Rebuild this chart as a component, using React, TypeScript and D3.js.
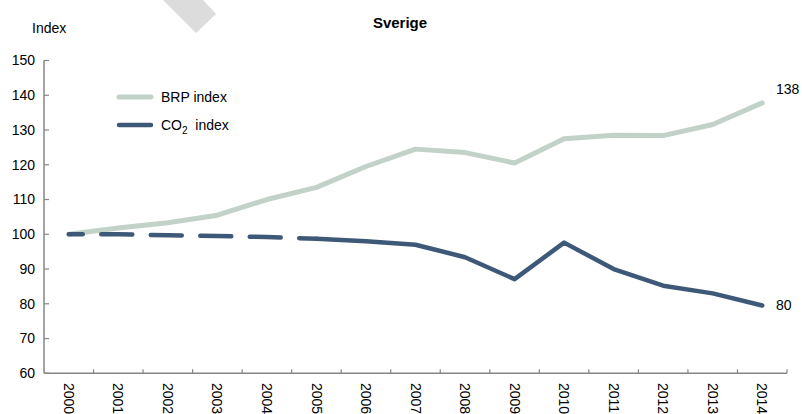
import React from "react";
import * as d3 from "d3";

const years = ["2000","2001","2002","2003","2004","2005","2006","2007","2008","2009","2010","2011","2012","2013","2014"];
const brp = [100, 101.8, 103.3, 105.5, 110, 113.5, 119.5, 124.5, 123.5, 120.5, 127.5, 128.5, 128.4, 131.6, 137.8];
const co2 = [100, 100, 99.7, 99.5, 99.2, 98.7, 98, 97, 93.4, 87.1, 97.6, 90, 85.2, 83, 79.5];
const endLabels = ["138", "80"];
const yTicks = [60, 70, 80, 90, 100, 110, 120, 130, 140, 150];
const dashedUntil = "2005";

const W = 802, H = 414;
const FONT = "'Liberation Sans', Arial, sans-serif";

export default function App() {
  const x = d3.scaleBand<string>().domain(years).range([44, 787]).padding(0);
  const y = d3.scaleLinear().domain([60, 150]).range([373.3, 60.5]);
  const cx = (d: string) => (x(d) as number) + x.bandwidth() / 2;
  const line = d3.line<[string, number]>().x(d => cx(d[0])).y(d => y(d[1]));
  const brpPts = years.map((yr, i) => [yr, brp[i]] as [string, number]);
  const co2Pts = years.map((yr, i) => [yr, co2[i]] as [string, number]);
  const cut = years.indexOf(dashedUntil);
  const co2Dashed = co2Pts.slice(0, cut + 1);
  const co2Solid = co2Pts.slice(cut);
  const last = years.length - 1;
  const brpColor = "#c2d2c9";
  const co2Color = "#3e5878";

  return (
    <svg width={W} height={H} style={{ position: "absolute", left: 0, top: 0 }} fontFamily={FONT}>
      <polygon points="163,0 203,0 216,14 196,33" fill="#dcdcdc" />
      <text x={400} y={28} textAnchor="middle" fontSize={15} fontWeight="bold" fill="#000">Sverige</text>
      <text x={32} y={33} fontSize={14} fill="#000">Index</text>

      {/* y axis */}
      <line x1={44} x2={44} y1={y(150)} y2={y(60)} stroke="#868686" strokeWidth={1.5} />
      {yTicks.map(t => (
        <g key={t}>
          <line x1={44} x2={49} y1={y(t)} y2={y(t)} stroke="#868686" strokeWidth={1.2} />
          <text x={35} y={y(t)} dy="0.35em" textAnchor="end" fontSize={14} fill="#000">{t}</text>
        </g>
      ))}

      {/* x axis */}
      <line x1={44} x2={787} y1={y(60)} y2={y(60)} stroke="#868686" strokeWidth={1.5} />
      {years.map((yr) => (
        <line key={"t" + yr} x1={(x(yr) as number) + x.bandwidth()} x2={(x(yr) as number) + x.bandwidth()} y1={y(60)} y2={y(60) - 4} stroke="#868686" strokeWidth={1.2} />
      ))}
      {years.map(yr => (
        <text key={"l" + yr} transform={`translate(${cx(yr)},383) rotate(90)`} dy="0.35em" fontSize={14} fill="#000">{yr}</text>
      ))}

      {/* lines */}
      <path d={line(brpPts) as string} fill="none" stroke={brpColor} strokeWidth={5} strokeLinejoin="round" strokeLinecap="round" />
      <path d={line(co2Dashed) as string} fill="none" stroke={co2Color} strokeWidth={4.5} strokeDasharray="31 18.5" strokeDashoffset={17} strokeLinecap="round" />
      <path d={line(co2Solid) as string} fill="none" stroke={co2Color} strokeWidth={4.5} strokeLinejoin="round" strokeLinecap="round" />

      {/* end labels */}
      <text x={776} y={y(brp[last]) - 9} fontSize={14} fill="#000">{endLabels[0]}</text>
      <text x={776} y={y(co2[last])} dy="0.35em" fontSize={14} fill="#000">{endLabels[1]}</text>

      {/* legend */}
      <line x1={119} x2={151} y1={97} y2={97} stroke={brpColor} strokeWidth={5} strokeLinecap="round" />
      <text x={161} y={97} dy="0.35em" fontSize={14} fill="#000">BRP index</text>
      <line x1={119} x2={151} y1={125} y2={125} stroke={co2Color} strokeWidth={4.5} strokeLinecap="round" />
      <text x={161} y={125} dy="0.35em" fontSize={14} fill="#000">
        CO<tspan fontSize={10} dy="4">2</tspan><tspan dy="-4">{"\u00a0 index"}</tspan>
      </text>
    </svg>
  );
}
